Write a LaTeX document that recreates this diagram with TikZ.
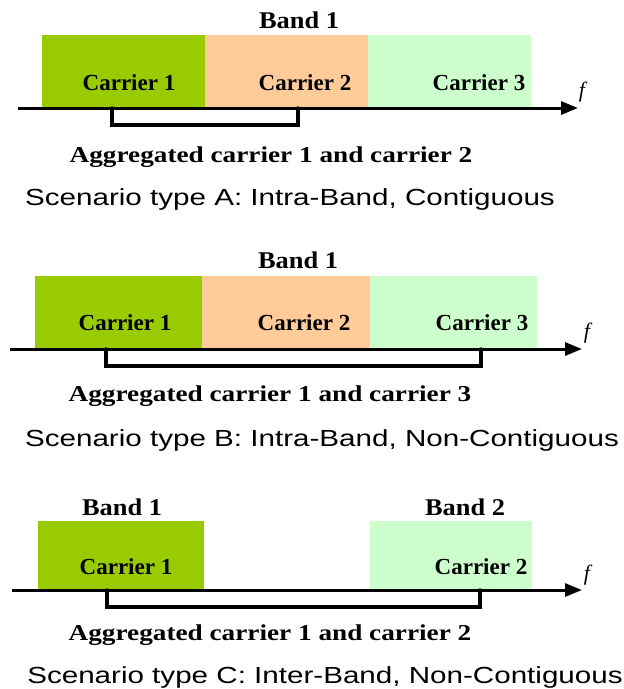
\documentclass[tikz,border=0pt]{standalone}
\usepackage{fontspec}
\setmainfont{Liberation Serif}
\newfontfamily\scenfont[FakeStretch=1.27]{Liberation Sans}
\newfontfamily\aggfont[FakeStretch=1.2]{Liberation Serif}
\newfontfamily\bandfont[FakeStretch=1.1]{Liberation Serif}
\usetikzlibrary{arrows.meta,positioning}
\definecolor{carone}{HTML}{99CC00}
\definecolor{cartwo}{HTML}{FFCC99}
\definecolor{carthree}{HTML}{CCFFCC}

\tikzset{
  carbox/.style={inner sep=0pt, outer sep=0pt, minimum height=#1},
  carlabel/.style={anchor=base, inner sep=0pt, font=\fontsize{23}{23}\selectfont\bfseries},
  bandlabel/.style={anchor=base, inner sep=0pt, font=\bandfont\fontsize{24}{24}\selectfont\bfseries},
  agglabel/.style={anchor=base, inner sep=0pt, font=\aggfont\fontsize{22.7}{23}\selectfont\bfseries},
  scenlabel/.style={anchor=base, inner sep=0pt, font=\scenfont\fontsize{23.3}{24}\selectfont},
  freqaxis/.style={line width=3pt, -{Triangle[length=17pt,width=13pt]}},
  aggbracket/.style={line width=3.5pt, line cap=round},
  flabel/.style={anchor=base, inner sep=0pt, font=\fontsize{22}{22}\selectfont\itshape}
}

\begin{document}
\begin{tikzpicture}[x=1pt, y=-1pt]
  \useasboundingbox (0,0) rectangle (624,689);

  % Scenario A: intra-band, contiguous
  \node[carbox=73pt, fill=carone, minimum width=163pt] (a1) at (123.5,71.5) {};
  \node[carbox=73pt, fill=cartwo, minimum width=163pt, right=0pt of a1] (a2) {};
  \node[carbox=73pt, fill=carthree, minimum width=163pt, right=0pt of a2] (a3) {};
  \node[bandlabel] (aband) at (299,28) {Band 1};
  \node[carlabel] (al1) at (129,90) {Carrier 1};
  \node[carlabel] (al2) at (305,90) {Carrier 2};
  \node[carlabel] (al3) at (479,90) {Carrier 3};
  \coordinate (aaxs) at (18,108);
  \coordinate (aaxe) at (578,108);
  \draw[freqaxis] (aaxs) -- (aaxe);
  \node[flabel] (af) at (582,97) {f};
  \coordinate (abl) at (112,108);
  \coordinate (abr) at (298,108);
  \draw[aggbracket] (abl) -- ++(0,17) -| (abr);
  \node[agglabel] (aagg) at (271,162) {Aggregated carrier 1 and carrier 2};
  \node[scenlabel] (ascen) at (290,205) {Scenario type A: Intra-Band, Contiguous};

  % Scenario B: intra-band, non-contiguous
  \node[carbox=73pt, fill=carone, minimum width=167pt] (b1) at (118.5,312.5) {};
  \node[carbox=73pt, fill=cartwo, minimum width=168pt, right=0pt of b1] (b2) {};
  \node[carbox=73pt, fill=carthree, minimum width=167pt, right=0pt of b2] (b3) {};
  \node[bandlabel] (bband) at (298,268) {Band 1};
  \node[carlabel] (bl1) at (125,330) {Carrier 1};
  \node[carlabel] (bl2) at (304,330) {Carrier 2};
  \node[carlabel] (bl3) at (482,330) {Carrier 3};
  \coordinate (baxs) at (10,349);
  \coordinate (baxe) at (582,349);
  \draw[freqaxis] (baxs) -- (baxe);
  \node[flabel] (bf) at (587,338) {f};
  \coordinate (bbl) at (106,349);
  \coordinate (bbr) at (481,349);
  \draw[aggbracket] (bbl) -- ++(0,17) -| (bbr);
  \node[agglabel] (bagg) at (270,401) {Aggregated carrier 1 and carrier 3};
  \node[scenlabel] (bscen) at (322,446) {Scenario type B: Intra-Band, Non-Contiguous};

  % Scenario C: inter-band, non-contiguous
  \node[carbox=69pt, fill=carone, minimum width=166pt] (c1) at (121,555.5) {};
  \node[carbox=69pt, fill=carthree, minimum width=162pt] (c2) at (451,555.5) {};
  \node[bandlabel] (cband1) at (122,515) {Band 1};
  \node[bandlabel] (cband2) at (465,515) {Band 2};
  \node[carlabel] (cl1) at (126,574) {Carrier 1};
  \node[carlabel] (cl2) at (481,574) {Carrier 2};
  \coordinate (caxs) at (12,590);
  \coordinate (caxe) at (582,590);
  \draw[freqaxis] (caxs) -- (caxe);
  \node[flabel] (cf) at (587,580) {f};
  \coordinate (cbl) at (107,590);
  \coordinate (cbr) at (480,590);
  \draw[aggbracket] (cbl) -- ++(0,17) -| (cbr);
  \node[agglabel] (cagg) at (270,640) {Aggregated carrier 1 and carrier 2};
  \node[scenlabel] (cscen) at (325,683) {Scenario type C: Inter-Band, Non-Contiguous};
\end{tikzpicture}
\end{document}
